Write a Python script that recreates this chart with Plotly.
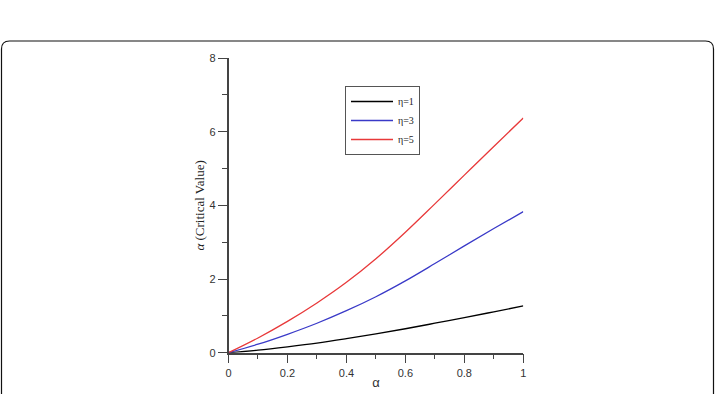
import plotly.graph_objects as go

W, H = 715, 394

alpha = [0.0, 0.1, 0.2, 0.3, 0.4, 0.5, 0.6, 0.7, 0.8, 0.9, 1.0]
eta1 = [0.0, 0.07, 0.16, 0.26, 0.38, 0.51, 0.65, 0.80, 0.95, 1.11, 1.27]
eta3 = [0.0, 0.23, 0.50, 0.80, 1.14, 1.52, 1.95, 2.42, 2.90, 3.37, 3.83]
eta5 = [0.0, 0.40, 0.85, 1.35, 1.91, 2.55, 3.27, 4.04, 4.82, 5.60, 6.37]

series = [("η=1", eta1, "#000000"), ("η=3", eta3, "#3a3ac8"), ("η=5", eta5, "#e8393a")]

fig = go.Figure()
for name, ys, col in series:
    fig.add_trace(go.Scatter(x=alpha, y=ys, mode="lines", name=name,
                             line=dict(color=col, width=1.3, shape="spline")))

# pixel geometry of the plot area
x0p, x1p = 228.5, 523.3
y0p, y1p = 352.7, 58.0

axcol = "#444444"
tickfont = dict(family="Liberation Sans, Arial", size=11, color="#333333")

fig.update_layout(
    width=W, height=H,
    margin=dict(l=0, r=0, t=0, b=0, autoexpand=False),
    paper_bgcolor="white", plot_bgcolor="white",
    showlegend=True,
    legend=dict(x=345 / W, y=1 - 86 / H, xanchor="left", yanchor="top",
                bordercolor="#555555", borderwidth=1, bgcolor="white",
                font=dict(family="Liberation Serif, Times New Roman", size=10, color="#222222"),
                tracegroupgap=0, itemwidth=42),
    xaxis=dict(domain=[x0p / W, x1p / W], range=[0, 1], automargin=False,
               tickvals=[0, 0.2, 0.4, 0.6, 0.8, 1], ticktext=["0", "0.2", "0.4", "0.6", "0.8", "1"],
               showgrid=False, zeroline=False, showline=True, linecolor=axcol, linewidth=1.5,
               ticks="outside", ticklen=9, tickwidth=1.2, tickcolor=axcol, tickfont=tickfont,
               minor=dict(dtick=0.1, ticks="outside", ticklen=5, tickwidth=1.2, tickcolor=axcol, showgrid=False),
               title=dict(text="α", font=dict(family="Liberation Sans, Arial", size=13, color="#333333"), standoff=0)),
    yaxis=dict(domain=[1 - y0p / H, 1 - y1p / H], range=[0, 8], dtick=2, automargin=False,
               showgrid=False, zeroline=False, showline=True, linecolor=axcol, linewidth=1.5,
               ticks="outside", ticklen=9, tickwidth=1.2, tickcolor=axcol, tickfont=tickfont,
               minor=dict(dtick=1, ticks="outside", ticklen=5, tickwidth=1.2, tickcolor=axcol, showgrid=False),
               title=dict(text="<i>α</i> (Critical Value)",
                          font=dict(family="Liberation Serif, Times New Roman", size=13, color="#222222"), standoff=2)),
)

# rounded card border at top of the figure
r = 8
xl, xr = 1.5 / W, 713.5 / W
yt = 1 - 41 / H
dx, dy = r / W, r / H
path = (f"M {xl},-0.1 L {xl},{yt - dy} Q {xl},{yt} {xl + dx},{yt} "
        f"L {xr - dx},{yt} Q {xr},{yt} {xr},{yt - dy} L {xr},-0.1")
fig.add_shape(type="path", path=path, xref="paper", yref="paper",
              line=dict(color="#111111", width=1.2), layer="below")

fig.write_html("out.html")
